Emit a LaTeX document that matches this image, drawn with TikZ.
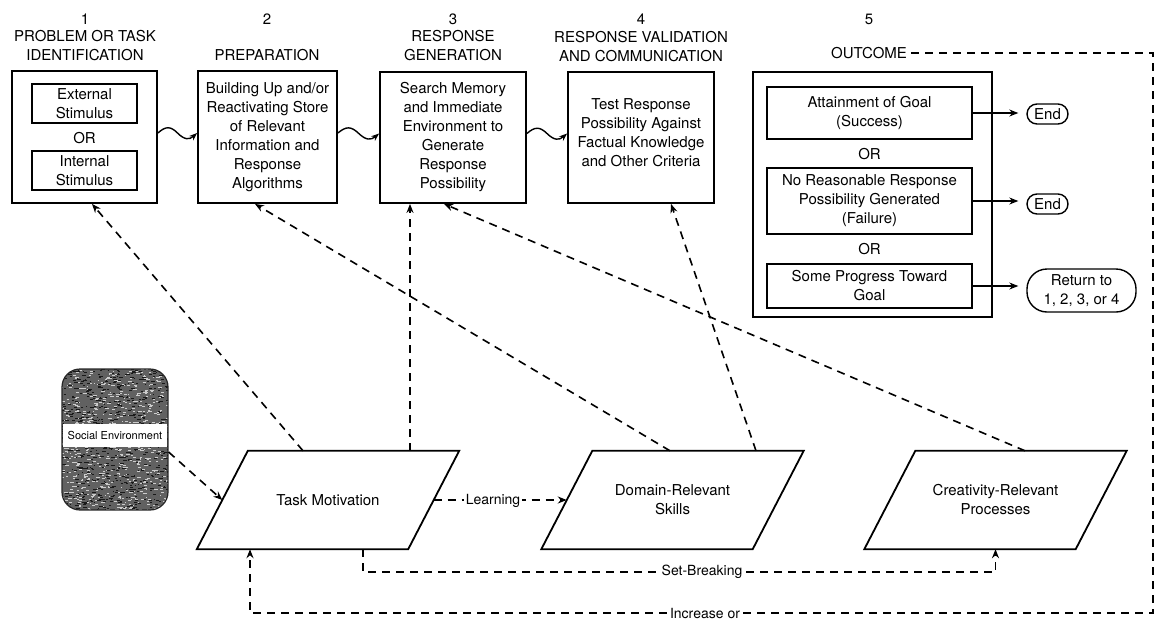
\documentclass[tikz,border=0pt]{standalone}
\usepackage{fontspec}
\setmainfont{TeX Gyre Heros}
\usetikzlibrary{arrows.meta,calc}
\tikzset{
  x=1pt,y=-1pt,
  txt/.style={font=\fontsize{15}{19}\selectfont, align=center, inner sep=0pt},
  box/.style={draw, line width=1.8pt, txt},
  dsh/.style={line width=1.6pt, dash pattern=on 8pt off 6pt},
  arr/.style={-{Stealth[length=9pt,width=7pt]}},
  lbl/.style={font=\fontsize{14}{17}\selectfont, fill=white, inner sep=1.5pt},
  pbox/.style={txt, minimum width=211pt, minimum height=98pt},
  wig/.style={line width=1.4pt, -{Stealth[length=8pt,width=6pt]},
    to path={.. controls ($(\tikztostart)!0.2!(\tikztotarget)+(0,-7)$) and ($(\tikztostart)!0.32!(\tikztotarget)+(0,-7)$) .. ($(\tikztostart)!0.5!(\tikztotarget)$) .. controls ($(\tikztostart)!0.68!(\tikztotarget)+(0,7)$) and ($(\tikztostart)!0.8!(\tikztotarget)+(0,7)$) .. (\tikztotarget)}},
}
\newcommand\drawpara[1]{\draw[line width=1.8pt] ([xshift=-25.5pt]#1.south west) -- ([xshift=-25.5pt]#1.south east) -- ([xshift=25.5pt]#1.north east) -- ([xshift=25.5pt]#1.north west) -- cycle;}
\begin{document}
\begin{tikzpicture}
\useasboundingbox (0,0) rectangle (1157,619);

% titles
\node[txt] (t1n) at (85,19) {1};
\node[txt] (t1) at (85,45.5) {PROBLEM OR TASK\\IDENTIFICATION};
\node[txt] (t2n) at (267,19) {2};
\node[txt] (t2) at (267,55) {PREPARATION};
\node[txt] (t3n) at (453,19) {3};
\node[txt] (t3) at (453,45.5) {RESPONSE\\GENERATION};
\node[txt] (t4n) at (641,19) {4};
\node[txt] (t4) at (641,47) {RESPONSE VALIDATION\\AND COMMUNICATION};
\node[txt] (t5n) at (869,19) {5};
\node[txt, inner sep=4pt] (outc) at (869,53) {OUTCOME};

% top boxes
\node[box, minimum width=145pt, minimum height=132pt] (b1) at (84.5,137) {};
\node[box, minimum width=105pt, minimum height=39pt] (ext) at (84.5,103.5) {External\\Stimulus};
\node[txt] (or1) at (84.5,138) {OR};
\node[box, minimum width=105pt, minimum height=39pt] (int) at (84.5,170.5) {Internal\\Stimulus};

\node[box, minimum width=139pt, minimum height=132pt] (b2) at (267.5,137)
  {Building Up and/or\\Reactivating Store\\of Relevant\\Information and\\Response\\Algorithms};
\node[box, minimum width=146pt, minimum height=131pt] (b3) at (453,137.5)
  {Search Memory\\and Immediate\\Environment to\\Generate\\Response\\Possibility};
\node[box, minimum width=146pt, minimum height=131pt] (b4) at (641,137.5) {};
\node[txt] (b4t) at (641,132.5) {Test Response\\Possibility Against\\Factual Knowledge\\and Other Criteria};

% outcome box
\node[box, minimum width=239pt, minimum height=245pt] (b5) at (872.5,194.5) {};
\node[box, minimum width=205pt, minimum height=52pt] (g1) at (869.5,113) {Attainment of Goal\\(Success)};
\node[txt] (or2) at (869.5,154) {OR};
\node[box, minimum width=205pt, minimum height=66pt] (g2) at (869.5,201) {No Reasonable Response\\Possibility Generated\\(Failure)};
\node[txt] (or3) at (869.5,249) {OR};
\node[box, minimum width=205pt, minimum height=44pt] (g3) at (869.5,286) {Some Progress Toward\\Goal};

\node[box, line width=1.4pt, rounded corners=10pt, minimum width=41pt, minimum height=20pt] (end1) at (1047.5,114) {End};
\node[box, line width=1.4pt, rounded corners=10pt, minimum width=41pt, minimum height=20pt] (end2) at (1047.5,204) {End};
\node[box, line width=1.4pt, rounded corners=20pt, minimum width=109pt, minimum height=43pt] (ret) at (1081.5,290.5) {Return to\\1, 2, 3, or 4};

\draw[line width=1.1pt, arr, shorten >=8pt] (g1.east) -- (g1.east -| end1.west);
\draw[line width=1.1pt, arr, shorten >=8pt] (g2.east) -- (g2.east -| end2.west);
\draw[line width=1.1pt, arr, shorten >=8pt] (g3.east) -- (g3.east -| ret.west);

% wiggly arrows
\draw[wig] ([yshift=4pt]b1.east) to ([yshift=4pt]b2.west);
\draw[wig] ([yshift=4pt]b2.east) to ([yshift=4pt]b3.west);
\draw[wig] ([yshift=4pt]b3.east) to ([yshift=4pt]b4.west);

% social environment (textured)
\begin{scope}
\clip[rounded corners=18pt] (62,369) rectangle (168,510);
\fill[black!62] (62,369) rectangle (168,510);
\pgfmathsetseed{7}
\foreach \i in {1,...,700}{
  \pgfmathsetmacro\rx{60+108*rnd}
  \pgfmathsetmacro\ry{369+141*rnd}
  \pgfmathsetmacro\rl{1+3*rnd}
  \draw[black!20, line width=0.6pt] (\rx,\ry) -- ++(\rl,0);
}
\foreach \i in {1,...,700}{
  \pgfmathsetmacro\rx{60+108*rnd}
  \pgfmathsetmacro\ry{369+141*rnd}
  \pgfmathsetmacro\rl{1+3*rnd}
  \draw[black!90, line width=0.7pt] (\rx,\ry) -- ++(\rl,0);
}
\end{scope}
\node[draw=black!85, line width=1.2pt, rounded corners=18pt, minimum width=106pt, minimum height=141pt, inner sep=0pt] (se) at (115,439.5) {};
\node[fill=white, minimum width=104pt, minimum height=23pt, inner sep=0pt, font=\fontsize{11}{13}\selectfont] (sel) at (115,435.5) {Social Environment};

% bottom parallelograms
\node[pbox] (tm) at (328,500) {Task Motivation};
\node[pbox] (dr) at (672.5,500) {Domain-Relevant\\Skills};
\node[pbox] (cr) at (995.5,500) {Creativity-Relevant\\Processes};
\drawpara{tm}
\drawpara{dr}
\drawpara{cr}

% dashed connectors
\draw[dsh,arr] ([yshift=-12.5pt]se.east) -- (tm.west);
\draw[dsh,arr] ([xshift=-25pt]tm.north) -- ([xshift=7.5pt]b1.south);
\draw[dsh,arr] ([xshift=82pt]tm.north) -- ([xshift=-43pt]b3.south);
\draw[dsh,arr] ([xshift=-2.5pt]dr.north) -- ([xshift=-12.5pt]b2.south);
\draw[dsh,arr] ([xshift=83.5pt]dr.north) -- ([xshift=30pt]b4.south);
\draw[dsh,arr] ([xshift=29.5pt]cr.north) -- ([xshift=-9pt]b3.south);

\draw[dsh,arr] (tm.east) -- (dr.west);
\node[lbl] (lrn) at (493,501) {Learning};

\draw[dsh,arr] ([xshift=35pt]tm.south) -- ++(0,23) -| (cr.south);
\node[lbl] (sb) at (702,572) {Set-Breaking};

\coordinate (cR) at (1153,613);
\draw[dsh,arr] (outc.east) -| (cR) -| ([xshift=-78pt]tm.south);
\node[lbl] (inc) at (705,613) {Increase or};
\end{tikzpicture}
\end{document}
